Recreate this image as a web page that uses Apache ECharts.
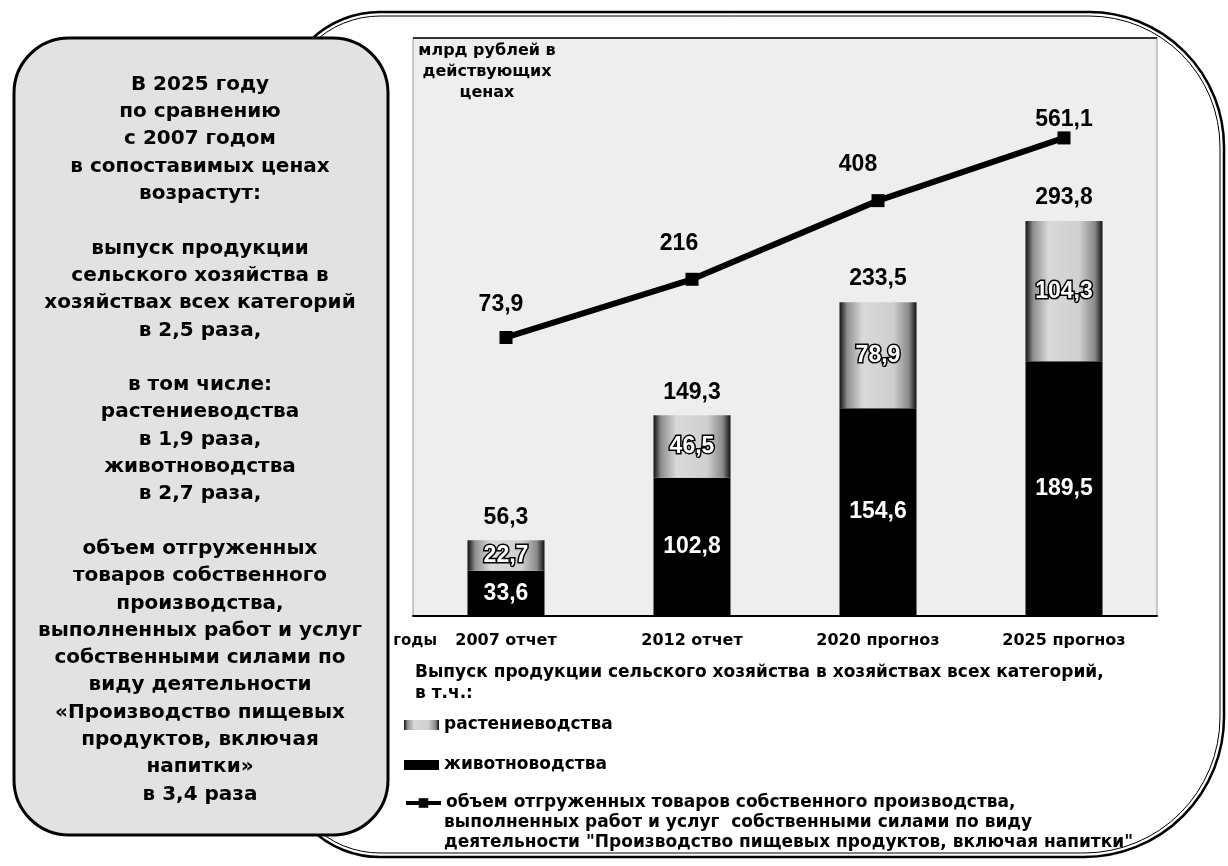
<!DOCTYPE html>
<html>
<head>
<meta charset="utf-8">
<script src="https://cdn.jsdelivr.net/npm/echarts@6/dist/echarts.min.js"></script>
<style>
html,body{margin:0;padding:0;background:#fff;}
#chart{width:1228px;height:866px;}
</style>
</head>
<body>
<div id="chart"></div>
<script>
// ---- data ----
const categories = ['2007 отчет', '2012 отчет', '2020 прогноз', '2025 прогноз'];
const livestock = [33.6, 102.8, 154.6, 189.5];   // животноводства
const crops = [22.7, 46.5, 78.9, 104.3];         // растениеводства
const totals = [56.3, 149.3, 233.5, 293.8];      // всего
const shipped = [73.9, 216, 408, 561.1];         // объем отгруженных товаров

const nameCrops = 'растениеводства';
const nameLivestock = 'животноводства';
const nameShipped = 'объем отгруженных товаров собственного производства, выполненных работ и услуг  собственными силами по виду деятельности "Производство пищевых продуктов, включая напитки"';
const shippedLegendLines = [
  'объем отгруженных товаров собственного производства,',
  'выполненных работ и услуг  собственными силами по виду',
  'деятельности "Производство пищевых продуктов, включая напитки"'
];
const unitText = 'млрд рублей в\nдействующих\nценах';
const yearsText = 'годы';
const legendTitle = 'Выпуск продукции сельского хозяйства в хозяйствах всех категорий,\nв т.ч.:';
const sideText = [
  'В 2025 году', 'по сравнению', 'с 2007 годом', 'в сопоставимых ценах', 'возрастут:', '',
  'выпуск продукции', 'сельского хозяйства в', 'хозяйствах всех категорий', 'в 2,5 раза,', '',
  'в том числе:', 'растениеводства', 'в 1,9 раза,', 'животноводства', 'в 2,7 раза,', '',
  'объем отгруженных', 'товаров собственного', 'производства,', 'выполненных работ и услуг',
  'собственными силами по', 'виду деятельности', '«Производство пищевых', 'продуктов, включая',
  'напитки»', 'в 3,4 раза'
];

// ---- helpers ----
const fmt = v => String(v).replace('.', ',');
const numFont = {fontFamily: '"Liberation Sans", Arial, sans-serif', fontWeight: 'bold', fontSize: 23};
const wideFont = '"DejaVu Sans", sans-serif';
const lineLabelOffsets = [[-5, -10], [-13, -13], [-20, -13], [0, 5]];

const chart = echarts.init(document.getElementById('chart'), null, {renderer: 'canvas'});

const cropFill = new echarts.graphic.LinearGradient(0, 0, 1, 0, [
  {offset: 0, color: '#111'},
  {offset: 0.1, color: '#8f8f8f'},
  {offset: 0.3, color: '#d9d9d9'},
  {offset: 0.7, color: '#cfcfcf'},
  {offset: 0.9, color: '#8a8a8a'},
  {offset: 1, color: '#111'}
]);

const legendText = {color: '#000', fontFamily: wideFont, fontWeight: 'bold', fontSize: 17, lineHeight: 20};

const option = {
  backgroundColor: '#ffffff',
  animation: false,
  grid: {
    left: 413, right: 71, top: 38, bottom: 250,
    show: true, backgroundColor: '#eeeeee', borderColor: '#9a9a9a', borderWidth: 1
  },
  xAxis: {
    type: 'category',
    data: categories,
    axisLine: {lineStyle: {color: '#000', width: 2}},
    axisTick: {length: 8, lineStyle: {color: '#000', width: 2}},
    axisLabel: {color: '#000', fontFamily: wideFont, fontWeight: 'bold', fontSize: 16, margin: 17}
  },
  yAxis: [
    {type: 'value', min: 0, max: 430, show: false},
    {type: 'value', min: -606, max: 805, show: false}
  ],
  legend: [
    {
      left: 404, top: 715, padding: 0, orient: 'vertical',
      data: [nameCrops, nameLivestock],
      icon: 'rect', itemWidth: 35, itemHeight: 10, itemGap: 20,
      textStyle: legendText
    },
    {
      left: 404, top: 793, padding: 0, orient: 'vertical',
      data: [nameShipped],
      itemWidth: 35, itemHeight: 12,
      lineStyle: {width: 4},
      formatter: () => shippedLegendLines[0],
      textStyle: legendText
    }
  ],
  graphic: [
    {
      type: 'rect', z: 1, silent: true,
      shape: {x: 280, y: 12, width: 944, height: 845, r: [100, 135, 140, 100]},
      style: {fill: 'none', stroke: '#000', lineWidth: 2.5}
    },
    {
      type: 'rect', z: 1, silent: true,
      shape: {x: 284, y: 16, width: 936, height: 837, r: [96, 131, 136, 96]},
      style: {fill: 'none', stroke: '#000', lineWidth: 1}
    },
    {
      type: 'rect', z: 3, silent: true,
      shape: {x: 14, y: 38, width: 374, height: 797, r: 55},
      style: {fill: '#e2e2e2', stroke: '#000', lineWidth: 3}
    },
    {
      type: 'text', z: 4, silent: true, x: 200, y: 71,
      style: {
        text: sideText.join('\n'), fill: '#000', align: 'center', verticalAlign: 'top',
        font: 'bold 20px "DejaVu Sans", sans-serif', lineHeight: 27.3
      }
    },
    {
      type: 'line', z: 3, silent: true,
      shape: {x1: 413, y1: 38, x2: 1157, y2: 38},
      style: {stroke: '#333', lineWidth: 2}
    },
    {
      type: 'text', z: 4, silent: true, x: 487, y: 40,
      style: {
        text: unitText, fill: '#000', align: 'center', verticalAlign: 'top',
        font: 'bold 16px "DejaVu Sans", sans-serif', lineHeight: 21
      }
    },
    {
      type: 'text', z: 4, silent: true, x: 437, y: 641,
      style: {
        text: yearsText, fill: '#000', align: 'right', verticalAlign: 'middle',
        font: 'bold 15px "DejaVu Sans", sans-serif'
      }
    },
    {
      type: 'text', z: 4, silent: true, x: 415, y: 662,
      style: {
        text: legendTitle, fill: '#000', align: 'left', verticalAlign: 'top',
        font: 'bold 17px "DejaVu Sans", sans-serif', lineHeight: 21
      }
    },
    {
      type: 'text', z: 4, silent: true, x: 444, y: 813,
      style: {
        text: shippedLegendLines.slice(1).join('\n'), fill: '#000', align: 'left', verticalAlign: 'top',
        font: 'bold 17px "DejaVu Sans", sans-serif', lineHeight: 20
      }
    }
  ],
  series: [
    {
      name: nameLivestock, type: 'bar', stack: 'agri', data: livestock, barWidth: 77,
      itemStyle: {color: '#000'},
      label: Object.assign({show: true, position: 'inside', color: '#fff', formatter: p => fmt(p.value)}, numFont)
    },
    {
      name: nameCrops, type: 'bar', stack: 'agri', data: crops, barWidth: 77,
      itemStyle: {color: cropFill},
      label: Object.assign({show: true, position: 'inside', color: '#fff', textBorderColor: '#000', textBorderWidth: 3,
        formatter: p => fmt(p.value)}, numFont)
    },
    {
      name: 'итого', type: 'scatter', data: totals, symbolSize: 1, silent: true,
      itemStyle: {color: 'rgba(0,0,0,0)', opacity: 1},
      label: Object.assign({show: true, position: 'top', distance: 11, color: '#000', formatter: p => fmt(p.value)}, numFont)
    },
    {
      name: nameShipped, type: 'line', yAxisIndex: 1,
      data: shipped.map((v, i) => ({value: v, label: {offset: lineLabelOffsets[i]}})),
      symbol: 'rect', symbolSize: 13,
      lineStyle: {color: '#000', width: 6},
      itemStyle: {color: '#000'},
      label: Object.assign({show: true, position: 'top', distance: 5, color: '#000', formatter: p => fmt(p.value)}, numFont),
      z: 5
    }
  ]
};
chart.setOption(option);
</script>
</body>
</html>
